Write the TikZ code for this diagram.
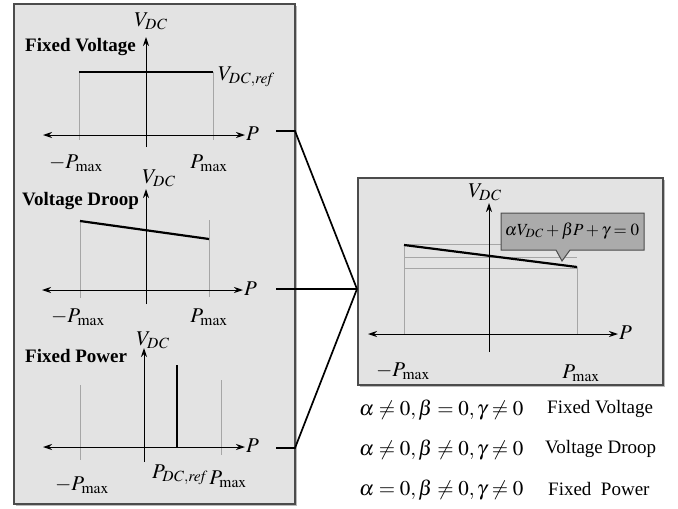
\documentclass[tikz,border=0pt]{standalone}
\usepackage{mathptmx}
\usepackage{fontspec}
\setmainfont{Liberation Serif}
\usetikzlibrary{arrows.meta,shadows}
\begin{document}
\begin{tikzpicture}[x=1pt,y=-1pt,
  frame/.style={draw=black!70,line width=1.5pt,fill=black!11,inner sep=0pt,
    drop shadow={shadow xshift=2.5pt,shadow yshift=-2.5pt,fill=black!45,opacity=0.6}},
  tip/.tip={Stealth[length=9pt,width=6pt]},
  vaxis/.style={line width=1pt,-tip},
  paxis/.style={line width=1pt,tip-tip},
  guide/.style={draw=black!35,line width=0.6pt},
  curve/.style={line width=2.2pt},
  lab/.style={inner sep=0pt,font=\fontsize{21}{23}\selectfont},
  ttl/.style={inner sep=0pt,anchor=west,font=\fontsize{19}{21}\selectfont\bfseries},
  conn/.style={line width=1.7pt},
  eq/.style={inner sep=0pt,anchor=west,font=\fontsize{21}{23}\selectfont},
  eqlab/.style={inner sep=0pt,anchor=west,font=\fontsize{19}{21}\selectfont}
]
\useasboundingbox (0,0) rectangle (678,509);
% frames
\node[frame,anchor=north west,minimum width=281pt,minimum height=500pt] (lp) at (13,3) {};
\node[frame,anchor=north west,minimum width=305pt,minimum height=207pt] (rp) at (357,177) {};

% ---------- plot 1: fixed voltage ----------
\coordinate (g1a) at (79,72);  \coordinate (g1ab) at (79,140);
\coordinate (g1b) at (213,72); \coordinate (g1bb) at (213,140);
\draw[guide] (g1a) -- (g1ab);
\draw[guide] (g1b) -- (g1bb);
\coordinate (p1l) at (43,135); \coordinate (p1r) at (245,135);
\coordinate (v1b) at (146,147); \coordinate (v1t) at (146,37);
\draw[paxis] (p1l) -- (p1r);
\draw[vaxis] (v1b) -- (v1t);
\draw[curve] (g1a) -- (g1b);
\node[lab,anchor=west] (P1) at (246,134) {$P$};
\node[lab] (V1) at (151,21) {$V_{\mathit{DC}}$};
\node[ttl] (t1) at (25,47) {Fixed Voltage};
\node[lab,anchor=west] (vref) at (218,77) {$V_{\mathit{DC,ref}}$};
\node[lab] (m1a) at (76,163) {$-P_{\max}$};
\node[lab] (m1b) at (209,163) {$P_{\max}$};

% ---------- plot 2: voltage droop ----------
\coordinate (g2a) at (80,221); \coordinate (g2ab) at (80,298);
\coordinate (g2b) at (209,239); \coordinate (g2bt) at (209,220); \coordinate (g2bb) at (209,297);
\draw[guide] (g2a) -- (g2ab);
\draw[guide] (g2bt) -- (g2bb);
\coordinate (p2l) at (42,290); \coordinate (p2r) at (243,290);
\coordinate (v2b) at (146,304); \coordinate (v2t) at (146,189);
\draw[paxis] (p2l) -- (p2r);
\draw[vaxis] (v2b) -- (v2t);
\draw[curve] (g2a) -- (g2b);
\node[lab,anchor=west] (P2) at (244,289) {$P$};
\node[lab] (V2) at (159,178) {$V_{\mathit{DC}}$};
\node[ttl] (t2) at (22,201) {Voltage Droop};
\node[lab] (m2a) at (78,317) {$-P_{\max}$};
\node[lab] (m2b) at (209,317) {$P_{\max}$};

% ---------- plot 3: fixed power ----------
\coordinate (g3a) at (80,385); \coordinate (g3ab) at (80,460);
\coordinate (g3b) at (221,380); \coordinate (g3bb) at (221,455);
\draw[guide] (g3a) -- (g3ab);
\draw[guide] (g3b) -- (g3bb);
\coordinate (p3l) at (43,447); \coordinate (p3r) at (245,447);
\coordinate (v3b) at (144,462); \coordinate (v3t) at (144,348);
\draw[paxis] (p3l) -- (p3r);
\draw[vaxis] (v3b) -- (v3t);
\coordinate (f3t) at (177,365); \coordinate (f3b) at (177,447);
\draw[curve] (f3b) -- (f3t);
\node[lab,anchor=west] (P3) at (246,446) {$P$};
\node[lab] (V3) at (153,340) {$V_{\mathit{DC}}$};
\node[ttl] (t3) at (25,356) {Fixed Power};
\node[lab] (m3a) at (82,485) {$-P_{\max}$};
\node[lab] (pref) at (180,475) {$P_{\mathit{DC,ref}}$};
\node[lab] (m3b) at (228,479) {$P_{\max}$};

% ---------- connectors ----------
\coordinate (j) at (357,289);
\coordinate (c1) at (276,131); \coordinate (c1b) at (295,131);
\coordinate (c2) at (276,289);
\coordinate (c3) at (276,448); \coordinate (c3b) at (295,448);
\draw[conn] (c1) -- (c1b) -- (j);
\draw[conn] (c2) -- (j);
\draw[conn] (c3) -- (c3b) -- (j);

% ---------- right panel ----------
\coordinate (ra) at (404,245); \coordinate (rab) at (404,334);
\coordinate (rb) at (577,267); \coordinate (rbb) at (577,334);
\draw[guide] (ra) -- (rab);
\draw[guide] (rb) -- (rbb);
\coordinate (h1a) at (404,244); \coordinate (h1b) at (577,244);
\coordinate (h2a) at (404,257); \coordinate (h2b) at (577,257);
\coordinate (h3a) at (404,268); \coordinate (h3b) at (577,268);
\draw[guide] (h1a) -- (h1b);
\draw[guide] (h2a) -- (h2b);
\draw[guide] (h3a) -- (h3b);
\coordinate (rpl) at (368,334); \coordinate (rpr) at (618,334);
\coordinate (rvb) at (489,352); \coordinate (rvt) at (489,203);
\draw[paxis] (rpl) -- (rpr);
\draw[vaxis] (rvb) -- (rvt);
\draw[curve] (ra) -- (rb);
\node[lab,anchor=west] (RP) at (619,333) {$P$};
\node[lab] (RV) at (485,192) {$V_{\mathit{DC}}$};
\node[lab] (rma) at (403,371) {$-P_{\max}$};
\node[lab] (rmb) at (581,373) {$P_{\max}$};
% callout
\draw[draw=black!70,line width=1pt,fill=black!33]
  (501,213) -- (644,213) -- (644,250) -- (570,250) -- (562,261) -- (556,250) -- (501,250) -- cycle;
\node[inner sep=0pt,font=\fontsize{17}{19}\selectfont] (call) at (572,231) {$\alpha V_{\mathit{DC}}+\beta P+\gamma=0$};

% ---------- equations ----------
\node[eq] (e1) at (359,410) {$\alpha\neq0,\beta=0,\gamma\neq0$};
\node[eq] (e2) at (359,450) {$\alpha\neq0,\beta\neq0,\gamma\neq0$};
\node[eq] (e3) at (359,490) {$\alpha=0,\beta\neq0,\gamma\neq0$};
\node[eqlab] (l1) at (547,409) {Fixed Voltage};
\node[eqlab] (l2) at (545,449) {Voltage Droop};
\node[eqlab] (l3) at (548,489) {Fixed\ \ Power};
\end{tikzpicture}
\end{document}
